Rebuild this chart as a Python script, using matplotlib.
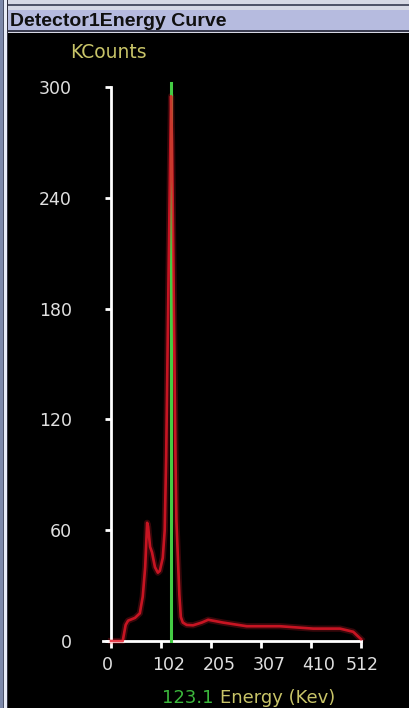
import matplotlib
matplotlib.use("Agg")
import matplotlib.pyplot as plt
import matplotlib.transforms as mtransforms
from matplotlib.patches import Rectangle

# ---- data ----
energy = [0, 24, 30, 35, 49, 59, 65, 70, 74, 76, 80, 84, 90, 96, 100, 106, 110,
          113, 115, 118, 121, 123, 125, 128, 130, 132, 134, 137, 140, 143, 147,
          155, 168, 186, 199, 229, 278, 346, 414, 469, 496, 512]
counts = [0, 0, 8.7, 11, 12.5, 15, 24, 40, 64, 62, 51, 48, 40, 37, 38, 45, 60,
          100, 140, 200, 260, 295, 270, 200, 150, 100, 65, 45, 25, 13, 10,
          8.7, 8.5, 10, 11.5, 10, 8, 8, 6.7, 6.7, 5, 1]
marker_energy = 123.1
x_ticks = [0, 102, 205, 307, 410, 512]
y_ticks = [0, 60, 120, 180, 240, 300]
title = "Detector1Energy Curve"
y_unit = "KCounts"
x_label = "Energy (Kev)"

W, H = 409, 708
fig = plt.figure(figsize=(W / 100, H / 100), dpi=100)
fig.patch.set_facecolor("black")

def px_rect(x, y, w, h, color):
    fig.patches.append(Rectangle((x / W, 1 - (y + h) / H), w / W, h / H,
                                 transform=fig.transFigure, color=color,
                                 zorder=0, linewidth=0))

# window frame
px_rect(0, 0, W, 33, "#d6d8e4")
px_rect(0, 4, W, 1.5, "#505468")
px_rect(8, 10, W - 8, 21, "#b6bbdf")
px_rect(8, 30, W - 8, 2, "#3a3c50")
px_rect(0, 0, 3, H, "#7c88aa")
px_rect(3, 0, 1, H, "#4a5068")
px_rect(4, 0, 3, H, "#e8ecf8")
px_rect(7, 0, 1, H, "#303040")

fig.text(10 / W, 1 - 21 / H, title, fontsize=14, fontweight="bold",
         family="Liberation Sans", color="#101010", va="center", ha="left")

# axes: data x=0 at px 111, 512 at px 361 ; y=0 at px 641, 300 at px 87
xmin = -16
sx = 250 / 512
left_px = 111 + xmin * sx
ax = fig.add_axes([left_px / W, (H - 641) / H, (361 - left_px) / W, 554 / H])
ax.set_facecolor("black")
ax.set_xlim(xmin, 512)
ax.set_ylim(0, 300)
for s in ["top", "right"]:
    ax.spines[s].set_visible(False)
ax.spines["left"].set_position(("data", 0))
for s in ["left", "bottom"]:
    ax.spines[s].set_color("white")
    ax.spines[s].set_linewidth(2)

# curve
ax.plot(energy, counts, color="#ff2030", lw=4.5, alpha=0.22, zorder=2, clip_on=False)
ax.axvline(marker_energy, ymin=0, ymax=1.008, color="#44cc44", lw=2.2, zorder=3, clip_on=False)
ax.plot(energy, counts, color="#e81828", lw=1.9, alpha=0.82, zorder=4, clip_on=False)

ax.set_yticks(y_ticks)
ax.set_yticklabels([str(v) for v in y_ticks])
ax.set_xticks(x_ticks)
ax.set_xticklabels([str(v) for v in x_ticks])
ax.tick_params(axis="y", colors="white", length=4, width=2, pad=24,
               labelsize=12.5, labelcolor="#e0e0e0")
ax.tick_params(axis="x", colors="white", length=5, width=2, pad=6,
               labelsize=12.5, labelcolor="#e0e0e0")
offsets = [-4, 8, 8, 8, 7, 1]
for lab, off in zip(ax.get_xticklabels(), offsets):
    lab.set_transform(lab.get_transform() +
                      mtransforms.ScaledTranslation(off / 100, 0, fig.dpi_scale_trans))

fig.text(70 / W, 1 - 52 / H, y_unit, fontsize=13.5, color="#c8c468",
         va="center", ha="left")
fig.text(162 / W, 1 - 698 / H, f"{marker_energy}", fontsize=13, color="#3cb83c",
         va="center", ha="left")
fig.text(220 / W, 1 - 698 / H, x_label, fontsize=13, color="#c8c468",
         va="center", ha="left")

fig.savefig("out.png", dpi=100, facecolor=fig.get_facecolor())
